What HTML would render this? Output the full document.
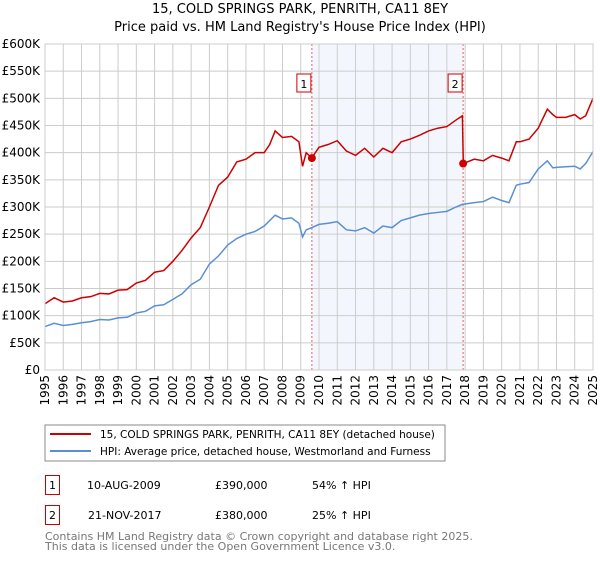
<!DOCTYPE html>
<html><head><meta charset="utf-8"><style>
body{margin:0;background:#fff;width:600px;height:560px;overflow:hidden;font-family:"DejaVu Sans","Liberation Sans",sans-serif;}
svg text{font-family:"DejaVu Sans","Liberation Sans",sans-serif;}
</style></head><body>
<svg id="chart" width="600" height="560">
<text x="300" y="13" text-anchor="middle" font-size="13">15, COLD SPRINGS PARK, PENRITH, CA11 8EY</text>
<text x="300" y="31" text-anchor="middle" font-size="13">Price paid vs. HM Land Registry's House Price Index (HPI)</text>
<g id="plot"></g>
<rect x="45" y="425" width="400" height="36" fill="#fff" stroke="#888"/>
<line x1="50" y1="434" x2="91" y2="434" stroke="#cc0000" stroke-width="2"/>
<text x="100" y="438" font-size="10.5">15, COLD SPRINGS PARK, PENRITH, CA11 8EY (detached house)</text>
<line x1="50" y1="451" x2="91" y2="451" stroke="#5b8fd4" stroke-width="2"/>
<text x="100" y="455" font-size="10.5">HPI: Average price, detached house, Westmorland and Furness</text>
<g font-size="11">
<rect x="45.5" y="475.5" width="14" height="19" fill="none" stroke="#cc0000"/>
<text x="52.5" y="489" text-anchor="middle">1</text>
<text x="87" y="489">10-AUG-2009</text><text x="215" y="489">£390,000</text><text x="312" y="489">54% ↑ HPI</text>
<rect x="45.5" y="505.5" width="14" height="19" fill="none" stroke="#cc0000"/>
<text x="52.5" y="519" text-anchor="middle">2</text>
<text x="88" y="519">21-NOV-2017</text><text x="215" y="519">£380,000</text><text x="312" y="519">25% ↑ HPI</text>
</g>
<text x="45" y="540" font-size="11" fill="#777">Contains HM Land Registry data © Crown copyright and database right 2025.</text>
<text x="45" y="550" font-size="11" fill="#777">This data is licensed under the Open Government Licence v3.0.</text>
</svg>
<script>
const years=[1995,1995.5,1996,1996.5,1997,1997.5,1998,1998.5,1999,1999.5,2000,2000.5,2001,2001.5,2002,2002.5,2003,2003.5,2004,2004.5,2005,2005.5,2006,2006.5,2007,2007.3,2007.6,2008,2008.5,2008.9,2009.1,2009.3,2009.6,2010,2010.5,2011,2011.5,2012,2012.5,2013,2013.5,2014,2014.5,2015,2015.5,2016,2016.5,2017,2017.5,2017.85,2017.9,2018.5,2019,2019.5,2020,2020.4,2020.8,2021,2021.5,2022,2022.5,2022.8,2023,2023.5,2024,2024.3,2024.6,2025];
const priceSeries=[122,133,125,127,133,135,141,140,147,148,160,165,180,183,200,220,243,262,300,340,355,383,388,400,400,415,440,428,430,420,375,400,390,410,415,422,403,395,408,392,408,400,420,425,432,440,445,448,460,468,380,388,385,395,390,385,420,420,425,445,480,470,465,465,470,462,468,500];
const hpiSeries=[80,86,82,84,87,89,93,92,96,97,105,108,118,120,130,140,157,167,195,210,230,242,250,255,265,275,285,278,280,270,245,258,262,268,270,273,258,256,262,252,265,262,275,280,285,288,290,292,300,305,305,308,310,318,312,308,340,342,345,370,385,372,373,374,375,370,380,402];
const sales=[{t:2009.61,v:390,label:"1"},{t:2017.89,v:380,label:"2"}];
const yTicks=[0,50,100,150,200,250,300,350,400,450,500,550,600];
const xTicks=[1995,1996,1997,1998,1999,2000,2001,2002,2003,2004,2005,2006,2007,2008,2009,2010,2011,2012,2013,2014,2015,2016,2017,2018,2019,2020,2021,2022,2023,2024,2025];
const X0=45,X1=593,Y0=370,Y1=44;
const x=t=>X0+(t-1995)/30*(X1-X0);
const y=v=>Y0-v/600*(Y0-Y1);
const NS="http://www.w3.org/2000/svg";
const g=document.getElementById('plot');
function mk(tag,attrs){const e=document.createElementNS(NS,tag);for(const k in attrs)e.setAttribute(k,attrs[k]);g.appendChild(e);return e;}
let e=mk('rect',{x:x(sales[0].t),y:Y1,width:x(sales[1].t)-x(sales[0].t),height:Y0-Y1,fill:'#eef3fc',opacity:0.7});


yTicks.forEach(v=>{
 let l=mk('line',{x1:X0,x2:X1,y1:y(v),y2:y(v),stroke:'#ccc'});
 
 
 let t=mk('text',{x:40,y:y(v)+4,'text-anchor':'end','font-size':12});
 
 
 t.textContent=v===0?'£0':'£'+v+'K';
});
xTicks.forEach(yr=>{
 let l=mk('line',{x1:x(yr),x2:x(yr),y1:Y1,y2:Y0,stroke:'#ccc'});
 
 
 let t=mk('text',{x:0,y:0,'font-size':12,'text-anchor':'end',transform:`translate(${x(yr)+4},${Y0+5}) rotate(-90)`});
 
 
 t.textContent=yr;
});
sales.forEach(s=>{
 let l=mk('line',{x1:x(s.t),x2:x(s.t),y1:Y1,y2:Y0,stroke:'#e06060','stroke-dasharray':'2,2'});
 
 
 let r=mk('rect',{x:x(s.t)-15,y:74,width:14,height:18,fill:'#fff',stroke:'#cc0000'});
 
 
 let t=mk('text',{x:x(s.t)-8,y:88,'text-anchor':'middle','font-size':11});
 
 
 t.textContent=s.label;
});
let pb=mk('polyline',{points:years.map((t,i)=>x(t)+','+y(hpiSeries[i])).join(' '),fill:'none',stroke:'#5b8fd4','stroke-width':1.5});


let pr=mk('polyline',{points:years.map((t,i)=>x(t)+','+y(priceSeries[i])).join(' '),fill:'none',stroke:'#cc0000','stroke-width':1.5});


sales.forEach(s=>{
 let c=mk('circle',{cx:x(s.t),cy:y(s.v),r:4,fill:'#cc0000'});
 
 
});
let ax=mk('rect',{x:X0,y:Y1,width:X1-X0,height:Y0-Y1,fill:'none',stroke:'#ccc'});


</script>
</body></html>
